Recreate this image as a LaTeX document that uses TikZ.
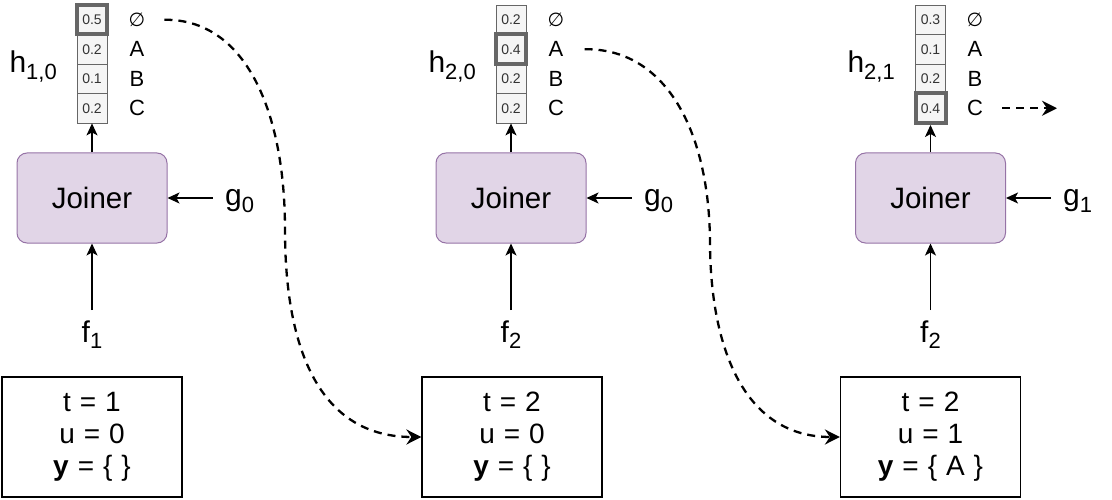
\documentclass[tikz,border=0pt]{standalone}
\usepackage{fontspec}
\setmainfont{Liberation Sans}
\newfontfamily\dejavu{DejaVu Sans}
\usetikzlibrary{arrows.meta}
\definecolor{joinfill}{HTML}{E1D5E7}
\definecolor{joindraw}{HTML}{9673A6}
\definecolor{cellfill}{HTML}{F5F5F5}
\definecolor{celldraw}{HTML}{666666}
\definecolor{celltext}{HTML}{333333}
\newcommand{\lowsub}[1]{\raisebox{-0.4ex}{\fontsize{22}{22}\selectfont #1}}
\newcommand{\statefont}{\fontsize{28}{32}\selectfont\spaceskip 0.32em\relax}
\begin{document}
\begin{tikzpicture}[x=1pt,y=-1pt,
  cellbox/.style={draw=celldraw, fill=cellfill, line width=0.8pt, minimum width=30pt, minimum height=29.5pt, inner sep=0pt, font=\fontsize{14}{14}\selectfont, text=celltext},
  hicell/.style={line width=4pt},
  lab/.style={inner sep=0pt, font=\fontsize{22}{22}\selectfont},
  biglab/.style={inner sep=0pt, font=\fontsize{30}{30}\selectfont},
  joiner/.style={draw=joindraw, fill=joinfill, rounded corners=10pt, line width=1pt, minimum width=150pt, minimum height=90pt, font=\fontsize{29.5}{29.5}\selectfont},
  state/.style={draw, line width=1.2pt, minimum width=180pt, minimum height=120pt, align=center, font=\statefont},
  arr/.style={line width=1.3pt, -{Stealth[length=12pt, width=11pt, inset=3pt]}},
  dasharr/.style={line width=2.3pt, dash pattern=on 8pt off 6pt, -{Stealth[length=15pt, width=15pt, inset=5pt]}}
]
\useasboundingbox (0,0) rectangle (1112,500);
% ---------- column 1 ----------
\node[cellbox] (a2) at (92,49.25) {0.2};
\node[cellbox] (a3) at (92,78.75) {0.1};
\node[cellbox] (a4) at (92,108.25) {0.2};
\node[cellbox, hicell] (a1) at (92,19.75) {0.5};
\node[lab] (la1) at (137,19.75) {{\dejavu\fontsize{19}{19}\selectfont ∅}};
\node[lab] (la2) at (137,49.25) {A};
\node[lab] (la3) at (137,78.75) {B};
\node[lab] (la4) at (137,108.25) {C};
\node[biglab, anchor=base east] (ha) at (57,73) {h\lowsub{1,0}};
\node[joiner] (ja) at (92,198) {Joiner};
\node[biglab, anchor=base west] (ga) at (225,206) {g\lowsub{0}};
\node[biglab, anchor=base] (fa) at (92,342) {f\lowsub{1}};
\node[state] (sa) at (92,437) {t = 1\\u = 0\\\textbf{y} = \{ \}};
\draw[arr] (ja.north) -- (a4.south);
\draw[arr] ([xshift=45pt]ja.east) -- (ja.east);
\draw[arr] ([yshift=10pt]fa.north) -- (ja.south);
% ---------- column 2 ----------
\node[cellbox] (b1) at (511,19.75) {0.2};
\node[cellbox] (b3) at (511,78.75) {0.2};
\node[cellbox] (b4) at (511,108.25) {0.2};
\node[cellbox, hicell] (b2) at (511,49.25) {0.4};
\node[lab] (lb1) at (556,19.75) {{\dejavu\fontsize{19}{19}\selectfont ∅}};
\node[lab] (lb2) at (556,49.25) {A};
\node[lab] (lb3) at (556,78.75) {B};
\node[lab] (lb4) at (556,108.25) {C};
\node[biglab, anchor=base east] (hb) at (476,73) {h\lowsub{2,0}};
\node[joiner] (jb) at (511,198) {Joiner};
\node[biglab, anchor=base west] (gb) at (644,206) {g\lowsub{0}};
\node[biglab, anchor=base] (fb) at (511,342) {f\lowsub{2}};
\node[state] (sb) at (512,437) {t = 2\\u = 0\\\textbf{y} = \{ \}};
\draw[arr] (jb.north) -- (b4.south);
\draw[arr] ([xshift=45pt]jb.east) -- (jb.east);
\draw[arr] ([yshift=10pt]fb.north) -- (jb.south);
% ---------- column 3 ----------
\node[cellbox] (c1) at (930.5,19.75) {0.3};
\node[cellbox] (c2) at (930.5,49.25) {0.1};
\node[cellbox] (c3) at (930.5,78.75) {0.2};
\node[cellbox, hicell] (c4) at (930.5,108.25) {0.4};
\node[lab] (lc1) at (975,19.75) {{\dejavu\fontsize{19}{19}\selectfont ∅}};
\node[lab] (lc2) at (975,49.25) {A};
\node[lab] (lc3) at (975,78.75) {B};
\node[lab] (lc4) at (975,108.25) {C};
\node[biglab, anchor=base east] (hc) at (895,73) {h\lowsub{2,1}};
\node[joiner] (jc) at (930.5,198) {Joiner};
\node[biglab, anchor=base west] (gc) at (1063,206) {g\lowsub{1}};
\node[biglab, anchor=base] (fc) at (930.5,342) {f\lowsub{2}};
\node[state] (sc) at (930.5,437) {t = 2\\u = 1\\\textbf{y} = \{ A \}};
\draw[arr] (jc.north) -- (c4.south);
\draw[arr] ([xshift=45pt]jc.east) -- (jc.east);
\draw[arr] ([yshift=10pt]fc.north) -- (jc.south);
% ---------- transitions ----------
\coordinate (outc) at (1057,108.25);
\draw[dasharr] ([xshift=19pt]la1.east) .. controls (245,19) and (285,110) .. (285,230)
   .. controls (285,350) and (320,437) .. (sb.west);
\draw[dasharr] ([xshift=21pt]lb2.east) .. controls (665,48) and (710,130) .. (710,245)
   .. controls (711,350) and (745,437) .. (sc.west);
\draw[dasharr] ([xshift=19pt]lc4.east) -- (outc);
\end{tikzpicture}
\end{document}
